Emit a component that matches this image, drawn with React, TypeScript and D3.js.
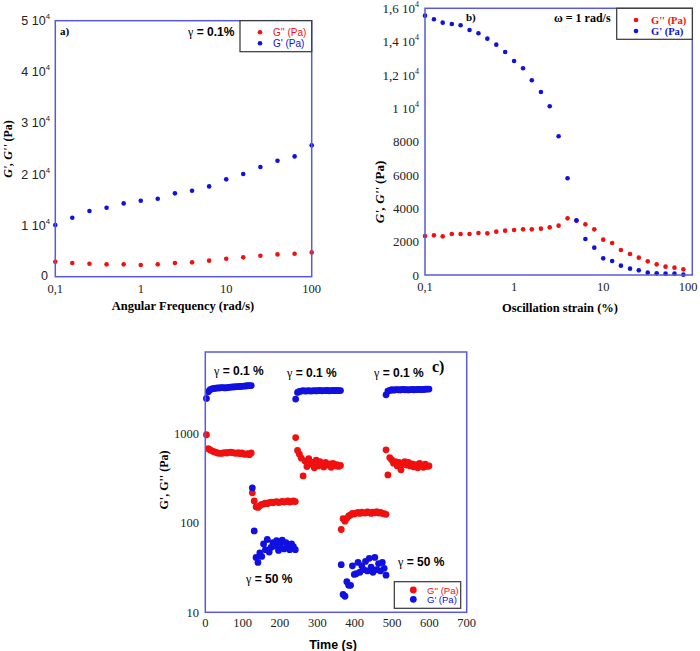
import React from 'react'
import * as d3 from 'd3'

// ---- (a) frequency sweep, gamma = 0.1 %
const freqA = [0.1, 0.158, 0.251, 0.398, 0.631, 1, 1.58, 2.51, 3.98, 6.31, 10, 15.8, 25.1, 39.8, 63.1, 100]
const gPrimeA = [10090, 11520, 12830, 13480, 14320, 14840, 15230, 16280, 16800, 17640, 19010, 20050, 21420, 22660, 23500, 25650]
const gDoubleA = [2930, 2670, 2540, 2410, 2410, 2280, 2410, 2670, 2800, 3130, 3520, 3780, 4100, 4360, 4490, 4750]
const ticksYA = [0, 10000, 20000, 30000, 40000, 50000]

// ---- (b) amplitude sweep, omega = 1 rad/s
const strainB = [0.1, 0.126, 0.158, 0.2, 0.251, 0.316, 0.398, 0.501, 0.631, 0.794, 1, 1.26, 1.58, 2, 2.51, 3.16, 3.98, 5.01, 6.31, 7.94, 10, 12.6, 15.8, 20, 25.1, 31.6, 39.8, 50.1, 63.1, 79.4]
const gPrimeB = [15560, 15340, 15140, 15060, 14980, 14700, 14500, 14180, 13820, 13380, 12840, 12400, 11680, 10980, 10120, 8320, 5800, 3280, 2160, 1640, 1000, 840, 560, 380, 280, 140, 100, 80, 80, 20]
const gDoubleB = [2340, 2380, 2320, 2460, 2460, 2460, 2520, 2500, 2600, 2660, 2700, 2740, 2740, 2780, 2860, 2960, 3400, 3250, 3040, 2740, 2120, 1920, 1500, 1260, 1040, 820, 640, 500, 440, 340]
const ticksYB = [0, 2000, 4000, 6000, 8000, 10000, 12000, 14000, 16000]

const ticksLog = [0.1, 1, 10, 100]

// ---- (c) step strain recovery, alternating 0.1 % / 50 %
const timeS1 = [3, 8, 13, 18, 23, 28, 33, 38, 43, 48, 53, 58, 63, 68, 73, 78, 83, 88, 93, 98, 103, 108, 113, 118, 123]
const gPrimeS1 = [2440, 2900, 3050, 3120, 3150, 3180, 3200, 3200, 3220, 3230, 3200, 3220, 3250, 3260, 3280, 3280, 3300, 3300, 3320, 3330, 3350, 3360, 3380, 3390, 3400]
const gDoubleS1 = [960, 670, 650, 635, 620, 610, 600, 595, 595, 600, 605, 600, 610, 615, 605, 600, 595, 605, 590, 600, 585, 580, 590, 575, 600]

const timeS2 = [126, 131, 136, 141, 146, 151, 156, 161, 166, 171, 176, 181, 186, 191, 196, 201, 206, 211, 216, 221, 226, 231, 236, 241]
const gPrimeS2 = [245, 81, 41, 36, 46, 42, 58, 50, 65, 47, 53, 60, 55, 63, 49, 57, 64, 51, 60, 55, 50, 58, 54, 50]
const gDoubleS2 = [216, 175, 150, 148, 155, 160, 162, 165, 163, 168, 170, 167, 170, 172, 168, 170, 173, 170, 172, 175, 170, 172, 175, 172]

const timeS3 = [242, 247, 252, 257, 262, 267, 272, 277, 282, 287, 292, 297, 302, 307, 312, 317, 322, 327, 332, 337, 342, 347, 352, 357, 362]
const gPrimeS3 = [2400, 2850, 2920, 2950, 2980, 2950, 2960, 2980, 2950, 2970, 2990, 2960, 2980, 3000, 2970, 2990, 2980, 3000, 2970, 2990, 3000, 2980, 3000, 2990, 2990]
const gDoubleS3 = [893, 640, 582, 525, 333, 490, 423, 520, 450, 470, 410, 500, 430, 480, 445, 420, 470, 440, 455, 415, 460, 430, 445, 425, 436]

const timeS4 = [364, 369, 374, 379, 384, 389, 394, 399, 404, 409, 414, 419, 424, 429, 434, 439, 444, 449, 454, 459, 464, 469, 474, 479, 484]
const gPrimeS4 = [34, 15.8, 15.1, 22, 20, 20, 33, 26.5, 27, 36, 28, 33, 30, 37, 29, 40, 32, 28, 41, 30, 35, 29, 36, 31, 26]
const gDoubleS4 = [84, 111, 104, 112, 119, 122, 127, 125, 128, 130, 127, 131, 129, 128, 132, 130, 127, 131, 129, 133, 128, 130, 127, 126, 124]

const timeS5 = [484, 489, 494, 499, 504, 509, 514, 519, 524, 529, 534, 539, 544, 549, 554, 559, 564, 569, 574, 579, 584, 589, 594, 599]
const gPrimeS5 = [2680, 2950, 3000, 3050, 3020, 3050, 3060, 3040, 3050, 3070, 3050, 3060, 3040, 3060, 3070, 3050, 3060, 3080, 3070, 3060, 3080, 3090, 3100, 3100]
const gDoubleS5 = [651, 342, 534, 503, 462, 480, 430, 470, 389, 450, 480, 440, 470, 430, 455, 420, 445, 410, 460, 430, 415, 450, 425, 431]

const ticksXC = [0, 100, 200, 300, 400, 500, 600, 700]
const ticksYC = [10, 100, 1000]

const RED = '#f01010'
const BLUE = '#1010e0'
const FRAME = '#5a5ad8'
const SERIF = '"Liberation Serif", "Times New Roman", serif'
const SANS = '"Liberation Sans", Arial, sans-serif'

const pairs = (xs: number[], ys: number[]) => xs.map((x, i) => ({ x, y: ys[i] }))

// "1,2 10^4" style labels
const sciLabel = (v: number, decimalComma = false) => {
  if (v < 10000) return { base: String(v), exp: '' }
  const m = v / 10000
  const ms = decimalComma ? String(m).replace('.', ',') : String(m)
  return { base: `${ms} 10`, exp: '4' }
}

const YTick = ({ x, y, v, font, size, comma }: any) => {
  const l = sciLabel(v, comma)
  return (
    <text x={x} y={y} textAnchor="end" fontFamily={font} fontSize={size} dy="0.35em" fill="#222">
      {l.base}
      {l.exp && (
        <tspan dy={-6} fontSize={size * 0.62}>
          {l.exp}
        </tspan>
      )}
    </text>
  )
}

const PanelA = () => {
  const L = 55.3, R = 311.7, T = 20.7, B = 276.7
  const x = d3.scaleLog().domain([0.1, 100]).range([L, R])
  const y = d3.scaleLinear().domain([0, 50000]).range([B, T])
  return (
    <g>
      {pairs(freqA, gDoubleA).map((d, i) => (
        <circle key={'r' + i} cx={x(d.x)} cy={y(d.y)} r={2.3} fill={RED} />
      ))}
      {pairs(freqA, gPrimeA).map((d, i) => (
        <circle key={'b' + i} cx={x(d.x)} cy={y(d.y)} r={2.3} fill={BLUE} />
      ))}
      <rect x={L} y={T} width={R - L} height={B - T} fill="none" stroke={FRAME} strokeWidth={1.5} />
      {ticksYA.map((v) => (
        <YTick key={v} x={v === 0 ? 48 : 50} y={y(v) - (v === 0 ? 1.5 : 0)} v={v} font={SANS} size={12.5} />
      ))}
      {ticksLog.map((v) => (
        <text key={v} x={x(v)} y={292.5} textAnchor="middle" fontFamily={SERIF} fontSize={12.5} fill="#222">
          {String(v).replace('.', ',')}
        </text>
      ))}
      <text x={183} y={310} textAnchor="middle" fontFamily={SERIF} fontWeight="bold" fontSize={12.5}>
        Angular Frequency (rad/s)
      </text>
      <text transform="translate(12,149) rotate(-90)" textAnchor="middle" fontFamily={SERIF} fontWeight="bold" fontSize={12}>
        <tspan fontStyle="italic">G', G''</tspan> (Pa)
      </text>
      <text x={60} y={35} fontFamily={SERIF} fontWeight="bold" fontSize={11}>a)</text>
      <text x={188} y={36} fontFamily={SANS} fontWeight="bold" fontSize={12}>
        <tspan fontFamily={SERIF} fontWeight="normal">γ</tspan> = 0.1%
      </text>
      <rect x={240} y={20.7} width={71.7} height={31} fill="#fff" stroke="#333" strokeWidth={1.2} />
      <circle cx={260} cy={32.2} r={2.3} fill={RED} />
      <circle cx={260} cy={43.3} r={2.3} fill={BLUE} />
      <text x={273} y={35.8} fontFamily={SANS} fontSize={10} fill={RED}>G'' (Pa)</text>
      <text x={273} y={47} fontFamily={SANS} fontSize={10} fill={BLUE}>G' (Pa)</text>
    </g>
  )
}

const PanelB = () => {
  const L = 425, R = 692.3, T = 8.3, B = 275
  const x = d3.scaleLog().domain([0.1, 100]).range([L, R])
  const y = d3.scaleLinear().domain([0, 16000]).range([B, T])
  return (
    <g>
      {pairs(strainB, gDoubleB).map((d, i) => (
        <circle key={'r' + i} cx={x(d.x)} cy={y(d.y)} r={2.3} fill={RED} />
      ))}
      {pairs(strainB, gPrimeB).map((d, i) => (
        <circle key={'b' + i} cx={x(d.x)} cy={y(d.y)} r={2.3} fill={BLUE} />
      ))}
      <rect x={L} y={T} width={R - L} height={B - T} fill="none" stroke={FRAME} strokeWidth={1.5} />
      {ticksYB.map((v) => (
        <YTick key={v} x={419} y={y(v)} v={v} font={SERIF} size={13} comma />
      ))}
      {ticksLog.map((v) => (
        <text key={v} x={Math.min(x(v), 688)} y={291} textAnchor="middle" fontFamily={SERIF} fontSize={12.5} fill="#222">
          {String(v).replace('.', ',')}
        </text>
      ))}
      <text x={560} y={312} textAnchor="middle" fontFamily={SERIF} fontWeight="bold" fontSize={12.5}>
        Oscillation strain (%)
      </text>
      <text transform="translate(384,192) rotate(-90)" textAnchor="middle" fontFamily={SERIF} fontWeight="bold" fontSize={13}>
        <tspan fontStyle="italic">G', G''</tspan> (Pa)
      </text>
      <text x={466} y={21} fontFamily={SERIF} fontWeight="bold" fontSize={11}>b)</text>
      <text x={554} y={22} fontFamily={SERIF} fontWeight="bold" fontSize={12}>ω = 1 rad/s</text>
      <rect x={616.7} y={8.3} width={75.6} height={31} fill="#fff" stroke="#333" strokeWidth={1.2} />
      <circle cx={636} cy={20} r={2.3} fill={RED} />
      <circle cx={636} cy={31} r={2.3} fill={BLUE} />
      <text x={651} y={23.8} fontFamily={SERIF} fontWeight="bold" fontSize={10.5} fill={RED}>G'' (Pa)</text>
      <text x={651} y={34.8} fontFamily={SERIF} fontWeight="bold" fontSize={10.5} fill={BLUE}>G' (Pa)</text>
    </g>
  )
}

const PanelC = () => {
  const L = 205.3, R = 466.7, T = 352, B = 612.3
  const x = d3.scaleLinear().domain([0, 700]).range([L, R])
  const y = d3.scaleLog().domain([10, 8050]).range([B, T])
  const segments = [
    { t: timeS1, gp: gPrimeS1, gd: gDoubleS1 },
    { t: timeS2, gp: gPrimeS2, gd: gDoubleS2 },
    { t: timeS3, gp: gPrimeS3, gd: gDoubleS3 },
    { t: timeS4, gp: gPrimeS4, gd: gDoubleS4 },
    { t: timeS5, gp: gPrimeS5, gd: gDoubleS5 },
  ]
  return (
    <g>
      {segments.map((s, k) => (
        <g key={k}>
          {pairs(s.t, s.gd).map((d, i) => (
            <circle key={'r' + i} cx={x(d.x)} cy={y(d.y)} r={3.4} fill={RED} />
          ))}
          {pairs(s.t, s.gp).map((d, i) => (
            <circle key={'b' + i} cx={x(d.x)} cy={y(d.y)} r={3.4} fill={BLUE} />
          ))}
        </g>
      ))}
      <rect x={L} y={T} width={R - L} height={B - T} fill="none" stroke={FRAME} strokeWidth={1.5} />
      {ticksYC.map((v) => (
        <text key={v} x={199} y={y(v)} dy="0.35em" textAnchor="end" fontFamily={SERIF} fontSize={12.5} fill="#222">
          {v}
        </text>
      ))}
      {ticksXC.map((v) => (
        <text key={v} x={x(v)} y={627} textAnchor="middle" fontFamily={SERIF} fontSize={12.5} fill="#222">
          {v}
        </text>
      ))}
      <text x={333} y={649} textAnchor="middle" fontFamily={SANS} fontWeight="bold" fontSize={12.5}>
        Time (s)
      </text>
      <text transform="translate(168,480) rotate(-90)" textAnchor="middle" fontFamily={SERIF} fontWeight="bold" fontSize={12}>
        G', G'' (Pa)
      </text>
      <text x={432} y={372} fontFamily={SERIF} fontWeight="bold" fontSize={16}>c)</text>
      {[
        [214, 375],
        [287, 377],
        [374, 377],
      ].map(([px, py], i) => (
        <text key={'lo' + i} x={px} y={py} fontFamily={SANS} fontWeight="bold" fontSize={12}>
          <tspan fontFamily={SERIF} fontWeight="normal">γ</tspan> = 0.1 %
        </text>
      ))}
      {[
        [246, 583],
        [398, 566],
      ].map(([px, py], i) => (
        <text key={'hi' + i} x={px} y={py} fontFamily={SANS} fontWeight="bold" fontSize={12}>
          <tspan fontFamily={SERIF} fontWeight="normal">γ</tspan> = 50 %
        </text>
      ))}
      <rect x={394.3} y={581.7} width={66.4} height={26.6} fill="#fff" stroke="#333" strokeWidth={1.2} />
      <circle cx={413.3} cy={590} r={3.4} fill={RED} />
      <circle cx={413.3} cy={599.3} r={3.4} fill={BLUE} />
      <text x={427} y={593.5} fontFamily={SANS} fontSize={9.5} fill={RED}>G'' (Pa)</text>
      <text x={427} y={603} fontFamily={SANS} fontSize={9.5} fill={BLUE}>G' (Pa)</text>
    </g>
  )
}

export default function App() {
  return (
    <svg
      width={700}
      height={651}
      style={{ position: 'absolute', left: 0, top: 0, background: '#fff' }}
    >
      <PanelA />
      <PanelB />
      <PanelC />
    </svg>
  )
}
